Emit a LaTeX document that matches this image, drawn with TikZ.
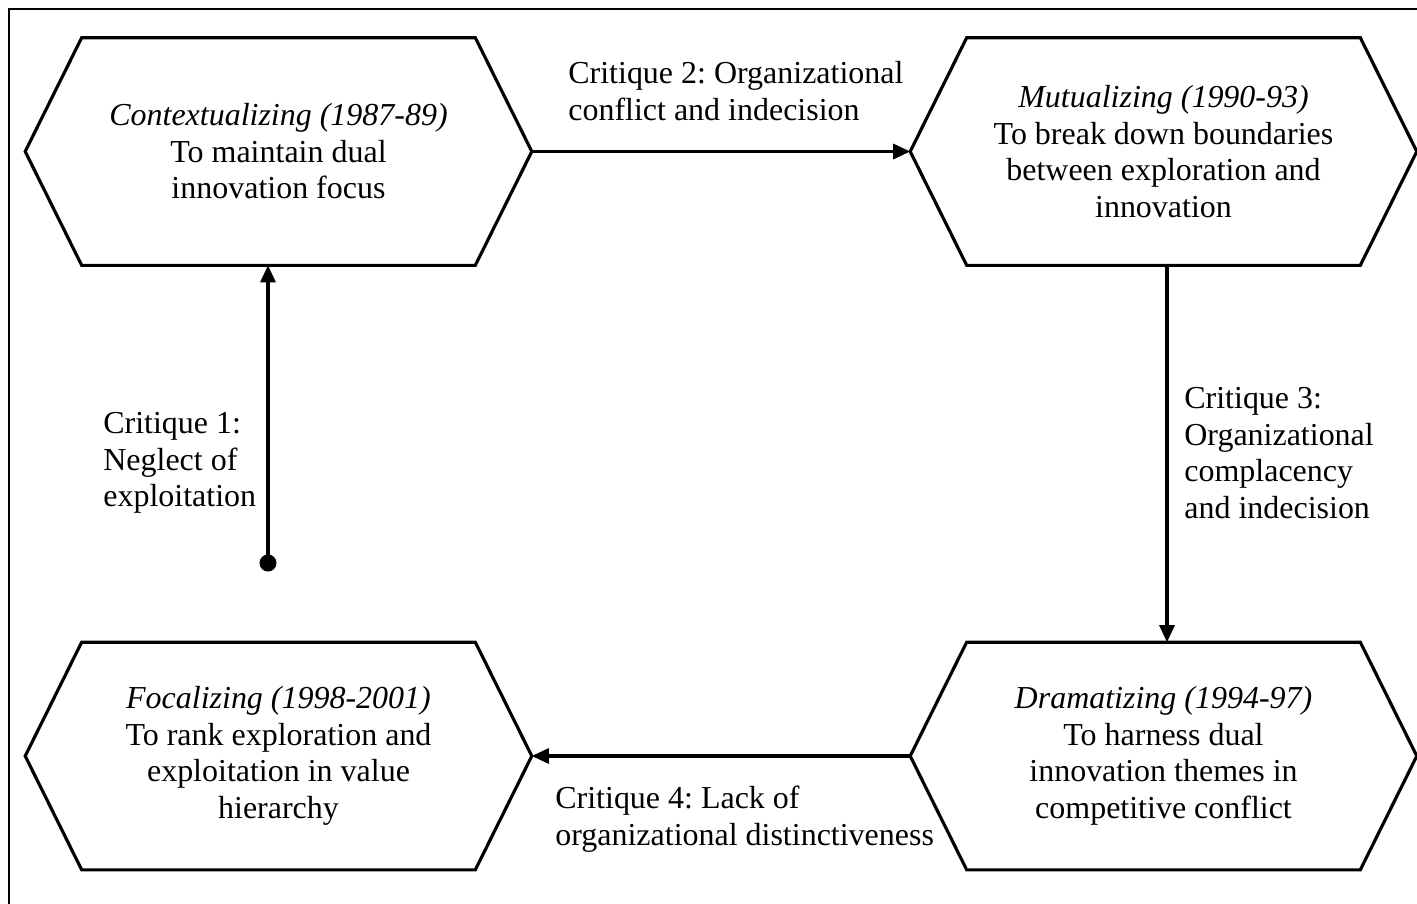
\documentclass[tikz,border=0pt]{standalone}
\usepackage{fontspec}
\setmainfont{Liberation Serif}
\usetikzlibrary{arrows.meta,calc}
\frenchspacing
\tikzset{
    phasebox/.style={
        minimum width=7.86cm,
        minimum height=4.54cm,
        inner sep=0pt,
        align=center,
        font=\fontsize{18.2}{20.8}\selectfont
    },
    % outline of a phase
    hexline/.style={
        line width=1.8pt,
        black,
        line join=miter
    },
    critarrow/.style={
        line width=1.8pt,
        black,
        -{Triangle[length=0.34cm, width=0.3cm]}
    },
    dotarrow/.style={
        line width=1.8pt,
        black,
        {Circle[length=0.34cm]}-{Triangle[length=0.34cm, width=0.3cm]}
    },
    critlabel/.style={
        anchor=west,
        align=left,
        inner sep=0pt,
        font=\fontsize{18.2}{20.8}\selectfont
    }
}
\newcommand\hexframe[1]{%
  \draw[hexline] (#1.north west) -- (#1.north east) -- ([xshift=1.13cm]#1.east) coordinate (#1 r)
    -- (#1.south east) -- (#1.south west) -- ([xshift=-1.13cm]#1.west) coordinate (#1 l) -- cycle;}

\begin{document}
\begin{tikzpicture}[x=0.02cm,y=-0.02cm]
\useasboundingbox (0,0) rectangle (1417,903);

% frame
\draw[line width=1.3pt] (9,930) |- (1440,9);

% phases
\node[phasebox] (ctx) at (278.5,151.5) {\textit{Contextualizing (1987-89)}\\To maintain dual\\innovation focus};
\node[phasebox] (mut) at (1163.5,151.5) {\textit{Mutualizing (1990-93)}\\To break down boundaries\\between exploration and\\innovation};
\node[phasebox] (dram) at (1163.5,756) {\textit{Dramatizing (1994-97)}\\To harness dual\\innovation themes in\\competitive conflict};
\node[phasebox] (foc) at (278.5,756) {\textit{Focalizing (1998-2001)}\\To rank exploration and\\exploitation in value\\hierarchy};

\hexframe{ctx}
\hexframe{mut}
\hexframe{dram}
\hexframe{foc}

% critiques
\coordinate (c1 start) at (268,571.5);
\coordinate (c3 start) at ($(mut.south)+(3.5,0)$);
\draw[dotarrow] (c1 start) -- (c1 start |- ctx.south);
\draw[critarrow] (ctx r) -- (mut l);
\draw[critarrow] (c3 start) -- (c3 start |- dram.north);
\draw[critarrow] (dram l) -- (foc r);

% label
\node[critlabel] (crit1) at (103,463) {Critique 1:\\Neglect of\\exploitation};
\node[critlabel] (crit2) at (568,91) {Critique 2: Organizational\\conflict and indecision};
\node[critlabel] (crit3) at (1184,453) {Critique 3:\\Organizational\\complacency\\and indecision};
\node[critlabel] (crit4) at (555,819) {Critique 4: Lack of\\organizational distinctiveness};
\end{tikzpicture}
\end{document}
